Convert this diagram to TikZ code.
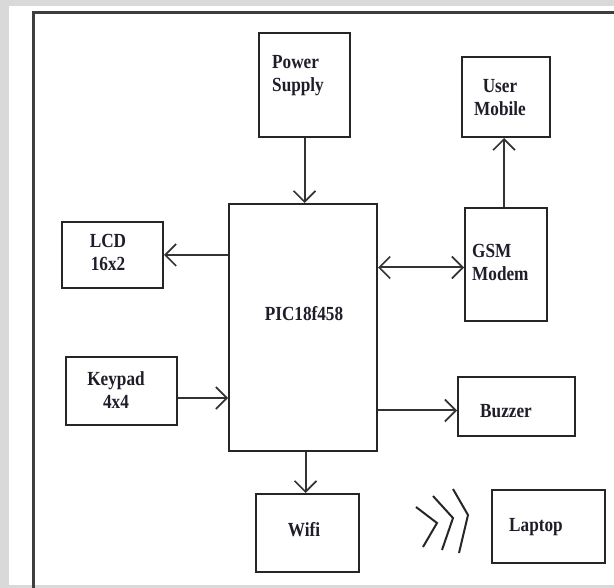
\documentclass[tikz,border=0pt]{standalone}
\usepackage{fontspec}
\setmainfont{Liberation Serif}[FakeStretch=0.86]
\usetikzlibrary{positioning,arrows.meta}
\definecolor{pageGray}{RGB}{217,217,217}
\definecolor{frameDark}{RGB}{62,62,62}
\definecolor{inkDark}{RGB}{30,30,42}

\begin{document}
\begin{tikzpicture}[x=1pt,y=-1pt,
    box/.style={draw=black!85,line width=2pt,fill=white,inner sep=0pt},
    lbl/.style={inkDark,font=\fontsize{20}{23}\selectfont\bfseries,inner sep=0pt},
    arr/.style={draw=black!80,line width=2pt,-{Straight Barb[length=11pt,width=22pt,line width=1.6pt]}},
    biarr/.style={draw=black!80,line width=2pt,{Straight Barb[length=11pt,width=22pt,line width=1.6pt]}-{Straight Barb[length=11pt,width=22pt,line width=1.6pt]}}]
    \useasboundingbox (0,0) rectangle (614,588);
    % page and frame
    \fill[pageGray] (0,0) rectangle (614,588);
    \fill[white] (9,6) rectangle (614,585);
    \draw[frameDark,line width=3pt] (33,588) -- (33,13) -- (614,13);
    % blocks: name/x/y/width/height
    \foreach \n/\x/\y/\w/\h in {power/304.5/85/91/104, mobile/506/97/88/80,
        lcd/112.5/255/101/66, pic/303/327.5/148/247, gsm/506/264.5/82/113,
        keypad/121.5/391/111/68, buzzer/516.5/406.5/117/59,
        wifi/307.5/533/103/78, laptop/548.5/526.5/113/73} {
      \node[box,minimum width=\w pt,minimum height=\h pt] (\n) at (\x,\y) {};
    }
    % texts
    \node[lbl,anchor=west,align=left] (powerTxt) at (272,76) {Power\\Supply};
    \node[lbl,align=center] (mobileTxt) at (500,98) {User\\Mobile};
    \node[lbl,align=center] (lcdTxt) at (108,252) {LCD\\16x2};
    \node[lbl] (picTxt) at (304,314) {PIC18f458};
    \node[lbl,anchor=west,align=left] (gsmTxt) at (472,262) {GSM\\Modem};
    \node[lbl,align=center] (keypadTxt) at (116,390) {Keypad\\4x4};
    \node[lbl] (buzzerTxt) at (506,411) {Buzzer};
    \node[lbl] (wifiTxt) at (304,530) {Wifi};
    \node[lbl] (laptopTxt) at (536,527) {Laptop};
    % connectors
    \draw[arr] (power.south) -- (power.south |- pic.north);
    \draw[arr] (pic.west |- lcd.east) -- (lcd.east);
    \draw[arr] ([yshift=-7pt]keypad.east) -- ([yshift=-7pt]keypad.east -| pic.west);
    \draw[biarr] ([yshift=-3pt]gsm.west -| pic.east) -- ([yshift=-3pt]gsm.west);
    \draw[arr] ([xshift=-2pt]gsm.north) -- ([xshift=-2pt]gsm.north |- mobile.south);
    \draw[arr] ([yshift=-4pt]buzzer.west -| pic.east) -- ([yshift=-4pt]buzzer.west);
    \draw[arr] ([xshift=-2pt]wifi.north |- pic.south) -- ([xshift=-2pt]wifi.north);
    % wireless waves
    \foreach \ax/\ay/\bx/\by/\cx/\cy in {416/507/437/523/423/547,
        433/496/453/518/442/550, 453/489/468/515/459/553} {
      \draw[black!85,line width=2pt] (\ax,\ay) -- (\bx,\by) -- (\cx,\cy);
    }
\end{tikzpicture}
\end{document}
